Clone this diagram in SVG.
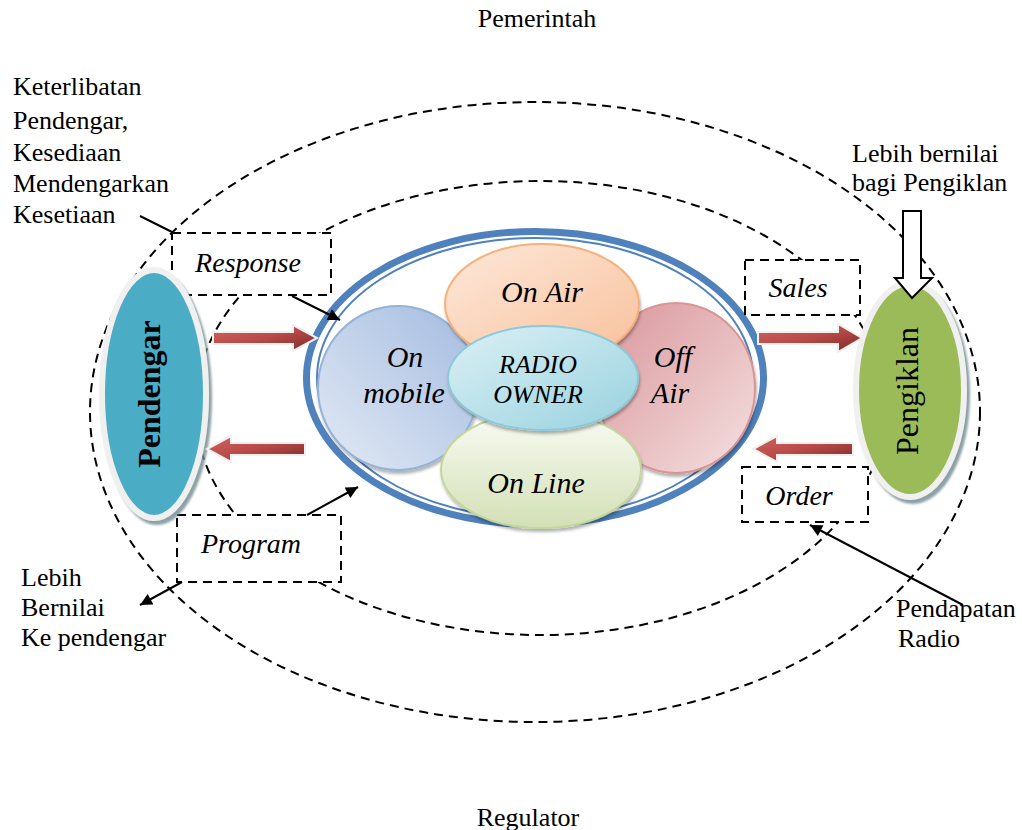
<svg xmlns="http://www.w3.org/2000/svg" width="1022" height="830" viewBox="0 0 1022 830">
<style>
.t{font-family:"Liberation Serif","Times New Roman",serif;fill:#000}
.r{font-size:26px}
.bl{font-size:28px;font-style:italic}
.el{font-size:30px;font-style:italic}
.dash{fill:none;stroke:#000;stroke-width:2;stroke-dasharray:9 6}
.box{fill:#fff;stroke:#000;stroke-width:2;stroke-dasharray:9 6}
.ln{fill:none;stroke:#000;stroke-width:2}
.red{fill:url(#gRed);stroke:#f0f0f0;stroke-width:2}
</style>
<defs>
<marker id="ah" viewBox="0 0 10 10" refX="10" refY="5" markerWidth="7" markerHeight="6" orient="auto" markerUnits="strokeWidth"><path d="M0,0 L10,5 L0,10 Z" fill="#000"/></marker>
<filter id="sh" x="-20%" y="-20%" width="140%" height="140%"><feDropShadow dx="1" dy="3" stdDeviation="1.5" flood-color="#000" flood-opacity="0.3"/></filter>
<filter id="shN" x="-20%" y="-20%" width="140%" height="140%"><feDropShadow dx="3" dy="4" stdDeviation="1" flood-color="#6f8a90" flood-opacity="0.8"/></filter>
<linearGradient id="gRed" x1="0" y1="0" x2="1" y2="1"><stop offset="0" stop-color="#d0625f"/><stop offset="0.5" stop-color="#b84a47"/><stop offset="1" stop-color="#7a2b29"/></linearGradient>
<linearGradient id="gBlue" x1="1" y1="0" x2="0" y2="1"><stop offset="0" stop-color="#a3bbe0"/><stop offset="1" stop-color="#e3eaf5"/></linearGradient>
<linearGradient id="gOr" x1="0" y1="0" x2="1" y2="1"><stop offset="0" stop-color="#fde8da"/><stop offset="1" stop-color="#f8c09a"/></linearGradient>
<linearGradient id="gPk" x1="0" y1="0" x2="1" y2="1"><stop offset="0" stop-color="#d9959a"/><stop offset="1" stop-color="#f5e1e1"/></linearGradient>
<linearGradient id="gGr" x1="0" y1="0" x2="0" y2="1"><stop offset="0" stop-color="#f9fbf4"/><stop offset="1" stop-color="#d3e0b6"/></linearGradient>
<linearGradient id="gCy" x1="0" y1="0" x2="1" y2="1"><stop offset="0" stop-color="#dcf0f5"/><stop offset="1" stop-color="#98d2df"/></linearGradient>
</defs>

<g id="regions">
<ellipse class="dash" cx="535" cy="412" rx="445" ry="310"/>
<ellipse class="dash" cx="540" cy="408" rx="345" ry="227"/>
</g>

<g id="radio-ring">
<ellipse cx="535" cy="378" rx="228.5" ry="146.5" fill="#fff" stroke="#4f81bd" stroke-width="7"/>
<ellipse cx="535" cy="378" rx="218" ry="140" fill="none" stroke="#4f81bd" stroke-width="2"/>
</g>

<g id="on-mobile" filter="url(#sh)">
<ellipse cx="398" cy="388" rx="80" ry="82" fill="url(#gBlue)" stroke="#95b3d7" stroke-width="2"/>
</g>
<g id="off-air" filter="url(#sh)">
<ellipse cx="676" cy="388" rx="79" ry="85" fill="url(#gPk)" stroke="#d99594" stroke-width="2"/>
</g>
<g id="on-air" filter="url(#sh)">
<ellipse cx="542" cy="304" rx="97" ry="60" fill="url(#gOr)" stroke="#f6b07a" stroke-width="2"/>
</g>
<g id="on-line" filter="url(#sh)">
<ellipse cx="541" cy="470" rx="100" ry="58" fill="url(#gGr)" stroke="#c3d69b" stroke-width="2"/>
</g>
<g id="radio-owner" filter="url(#sh)">
<ellipse cx="543" cy="378" rx="95" ry="52" fill="url(#gCy)" stroke="#8ccad9" stroke-width="2"/>
</g>
<g id="ring-labels">
<text class="t el" x="542" y="302" text-anchor="middle">On Air</text>
<text class="t el" x="405" y="367" text-anchor="middle">On</text>
<text class="t el" x="404" y="403" text-anchor="middle">mobile</text>
<text class="t el" x="673" y="367" text-anchor="middle">Off</text>
<text class="t el" x="670" y="403" text-anchor="middle">Air</text>
<text class="t el" x="536" y="493" text-anchor="middle">On Line</text>
<text class="t" x="538" y="373" text-anchor="middle" font-size="26" font-style="italic">RADIO</text>
<text class="t" x="538" y="403" text-anchor="middle" font-size="26" font-style="italic">OWNER</text>
</g>

<g id="box-response">
<rect class="box" x="172" y="233" width="159" height="62"/>
<text class="t bl" x="248" y="272" text-anchor="middle">Response</text>
</g>
<g id="box-program">
<rect class="box" x="177" y="515" width="164" height="67"/>
<text class="t bl" x="251" y="553" text-anchor="middle">Program</text>
</g>
<g id="box-sales">
<rect class="box" x="745" y="260" width="115" height="55"/>
<text class="t bl" x="798" y="297" text-anchor="middle">Sales</text>
</g>
<g id="box-order">
<rect class="box" x="742" y="467" width="126" height="55"/>
<text class="t bl" x="799" y="505" text-anchor="middle">Order</text>
</g>

<g id="pendengar">
<ellipse cx="154" cy="394" rx="52" ry="124" fill="#4bacc6" stroke="#f0f0f0" stroke-width="6" filter="url(#shN)"/>
<text class="t" transform="translate(160,394) rotate(-90)" text-anchor="middle" font-size="32" font-weight="bold">Pendengar</text>
</g>
<g id="pengiklan">
<ellipse cx="910" cy="390" rx="54" ry="107" fill="#9bbb59" stroke="#f0f0f0" stroke-width="6" filter="url(#shN)"/>
<text class="t" transform="translate(918,391) rotate(-90)" text-anchor="middle" font-size="32">Pengiklan</text>
</g>

<g id="connectors">
<path class="red" d="M213,332 L293,332 L293,325 L317,338 L293,351 L293,344 L213,344 Z"/>
<path class="red" d="M305,443 L231,443 L231,436 L207,449 L231,462 L231,455 L305,455 Z"/>
<path class="red" d="M758,332 L838,332 L838,324 L862,338 L838,352 L838,344 L758,344 Z"/>
<path class="red" d="M853,443 L777,443 L777,436 L753,449 L777,462 L777,455 L853,455 Z"/>
<path d="M903,211 L921,211 L921,278 L932,278 L912,298 L895,278 L903,278 Z" fill="#fff" stroke="#000" stroke-width="2"/>
<line class="ln" x1="140" y1="216" x2="172" y2="232"/>
<line class="ln" x1="292" y1="296" x2="340" y2="320" marker-end="url(#ah)"/>
<line class="ln" x1="307" y1="515" x2="358" y2="487" marker-end="url(#ah)"/>
<line class="ln" x1="182" y1="582" x2="140" y2="605" marker-end="url(#ah)"/>
<line class="ln" x1="963" y1="605" x2="810" y2="525" marker-end="url(#ah)"/>
</g>

<g id="labels">
<text class="t r" x="537" y="27" text-anchor="middle">Pemerintah</text>
<text class="t r" x="528" y="826" text-anchor="middle">Regulator</text>
<text class="t r" x="13" y="95">Keterlibatan</text>
<text class="t r" x="13" y="129">Pendengar,</text>
<text class="t r" x="13" y="161">Kesediaan</text>
<text class="t r" x="13" y="192">Mendengarkan</text>
<text class="t r" x="13" y="223">Kesetiaan</text>
<text class="t r" x="21" y="586">Lebih</text>
<text class="t r" x="21" y="616">Bernilai</text>
<text class="t r" x="21" y="646">Ke pendengar</text>
<text class="t r" x="852" y="162">Lebih bernilai</text>
<text class="t r" x="852" y="191">bagi Pengiklan</text>
<text class="t r" x="896" y="617">Pendapatan</text>
<text class="t r" x="898" y="647">Radio</text>
</g>
</svg>
